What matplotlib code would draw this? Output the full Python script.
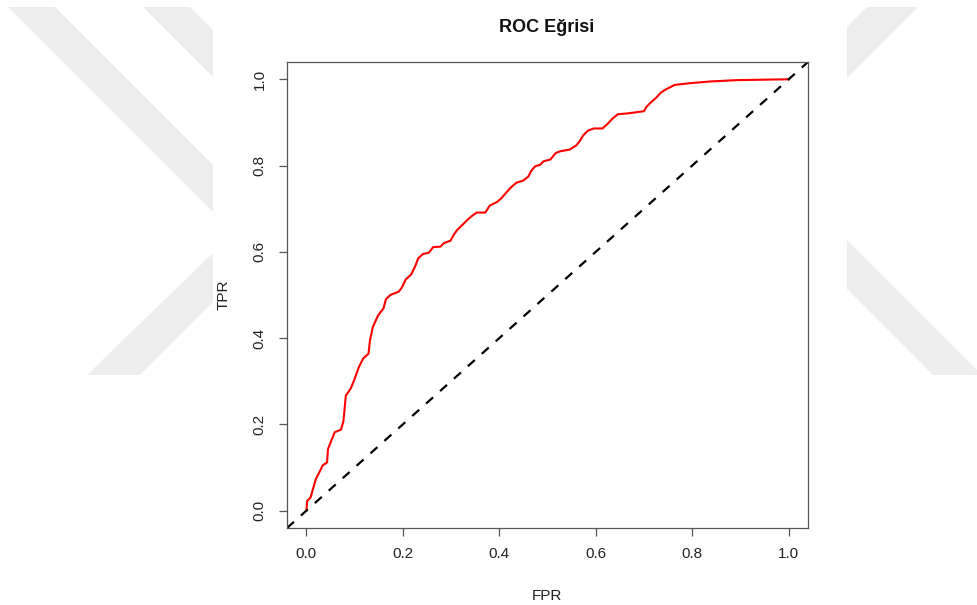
import matplotlib
matplotlib.use("Agg")
import matplotlib.pyplot as plt
from matplotlib.patches import Polygon, Rectangle

# ROC curve points (FPR, TPR)
fpr = [0.0, 0.002, 0.009, 0.013, 0.02, 0.027, 0.034, 0.043, 0.045, 0.052, 0.059,
       0.072, 0.077, 0.082, 0.092, 0.099, 0.109, 0.118, 0.129, 0.132, 0.138,
       0.149, 0.160, 0.165, 0.174, 0.192, 0.199, 0.206, 0.217, 0.222, 0.227,
       0.232, 0.242, 0.254, 0.263, 0.278, 0.285, 0.299, 0.306, 0.313, 0.324,
       0.333, 0.342, 0.353, 0.371, 0.380, 0.396, 0.405, 0.415, 0.423, 0.435,
       0.449, 0.460, 0.466, 0.474, 0.485, 0.492, 0.506, 0.517, 0.526, 0.546,
       0.560, 0.567, 0.574, 0.584, 0.596, 0.614, 0.623, 0.635, 0.646, 0.667,
       0.700, 0.705, 0.714, 0.725, 0.735, 0.746, 0.764, 0.796, 0.839, 0.893, 1.0]
tpr = [0.0, 0.023, 0.031, 0.047, 0.074, 0.089, 0.105, 0.112, 0.143, 0.163, 0.182,
       0.188, 0.208, 0.267, 0.283, 0.302, 0.333, 0.353, 0.364, 0.395, 0.426,
       0.453, 0.469, 0.490, 0.500, 0.508, 0.519, 0.536, 0.547, 0.558, 0.570,
       0.585, 0.595, 0.598, 0.611, 0.612, 0.620, 0.626, 0.640, 0.651, 0.663,
       0.673, 0.682, 0.691, 0.691, 0.707, 0.716, 0.725, 0.738, 0.748, 0.760,
       0.765, 0.774, 0.787, 0.798, 0.802, 0.810, 0.814, 0.829, 0.833, 0.837,
       0.847, 0.857, 0.870, 0.881, 0.886, 0.886, 0.895, 0.909, 0.919, 0.921,
       0.926, 0.936, 0.946, 0.957, 0.969, 0.977, 0.987, 0.991, 0.995, 0.998, 1.0]
ticks = [0.0, 0.2, 0.4, 0.6, 0.8, 1.0]
tick_labels = ["0.0", "0.2", "0.4", "0.6", "0.8", "1.0"]

W, H = 978, 605
plt.rcParams['font.family'] = ['Liberation Sans', 'DejaVu Sans']
fig = plt.figure(figsize=(W / 100, H / 100), dpi=100)

# background watermark (pixel coords, y from top)
wm = "#ededed"
shapes = [
    [(8, 7), (55, 7), (213, 165), (213, 212)],
    [(143, 7), (190, 7), (213, 30), (213, 77)],
    [(213, 253), (213, 302), (140, 375), (87, 375)],
    [(867, 7), (918, 7), (845, 80), (845, 29)],
    [(845, 238), (978, 371), (978, 375), (933, 375), (845, 287)],
]
for s in shapes:
    fig.patches.append(Polygon([(x / W, 1 - y / H) for x, y in s],
                               closed=True, transform=fig.transFigure,
                               facecolor=wm, edgecolor="none", zorder=-2))
fig.patches.append(Rectangle((213 / W, 0), (847 - 213) / W, 1,
                             transform=fig.transFigure, facecolor="white",
                             edgecolor="none", zorder=-1))

ax = fig.add_axes([287 / W, 1 - 528 / H, (808 - 287) / W, (528 - 62) / H])
ax.set_zorder(1)
ax.patch.set_alpha(0)
ax.plot(fpr, tpr, color="red", lw=1.5)
ax.axline((0, 0), slope=1, color="black", lw=1.6, linestyle=(0, (4.2, 4.2)))
ax.set_xlim(-0.04, 1.04)
ax.set_ylim(-0.04, 1.04)
ax.set_xticks(ticks)
ax.set_xticklabels(tick_labels)
ax.set_yticks(ticks)
ax.set_yticklabels(tick_labels, rotation=90, va="center")
ax.tick_params(axis="both", length=6, width=0.9, color="#555555",
               labelsize=11, labelcolor="#222222")
ax.tick_params(axis="x", pad=8)
ax.tick_params(axis="y", pad=8.5)
for sp in ax.spines.values():
    sp.set_color("#555555")
    sp.set_linewidth(0.9)

fig.text(547 / W, 1 - 28 / H, "ROC Eğrisi", ha="center", va="center",
         fontsize=13, fontweight="bold", color="#111111")
fig.text(547 / W, 1 - 600 / H, "FPR", ha="center", va="baseline",
         fontsize=11, color="#222222")
fig.text(224 / W, 1 - 295 / H, "TPR", ha="center", va="center",
         rotation=90, fontsize=11, color="#222222")

fig.savefig("out.png", dpi=100)
